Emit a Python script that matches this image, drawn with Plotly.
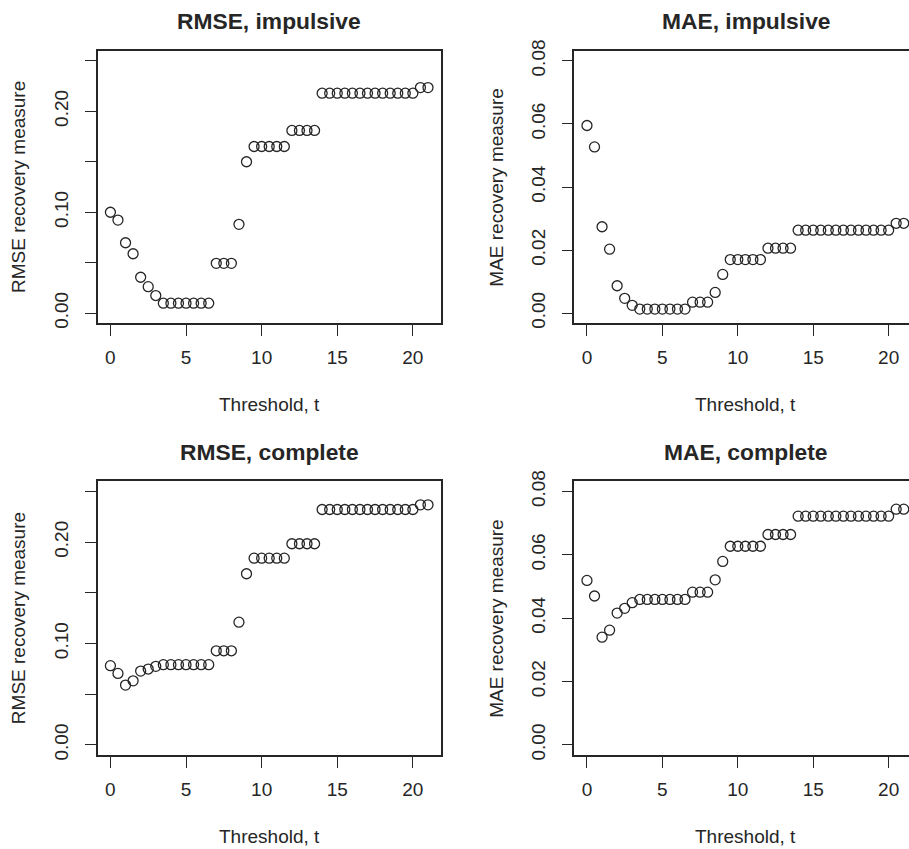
import plotly.graph_objects as go

# ---------------- data ----------------
threshold = [0, 0.5, 1, 1.5, 2, 2.5, 3, 3.5, 4, 4.5, 5, 5.5, 6, 6.5, 7, 7.5, 8, 8.5,
             9, 9.5, 10, 10.5, 11, 11.5, 12, 12.5, 13, 13.5, 14, 14.5, 15, 15.5, 16,
             16.5, 17, 17.5, 18, 18.5, 19, 19.5, 20, 20.5, 21]

rmse_impulsive = [0.1000, 0.0922, 0.0698, 0.0589, 0.0356, 0.0263, 0.0175,
                  0.0099, 0.0099, 0.0099, 0.0099, 0.0099, 0.0099, 0.0099,
                  0.0494, 0.0494, 0.0494, 0.0880, 0.1500,
                  0.1651, 0.1651, 0.1651, 0.1651, 0.1651,
                  0.1810, 0.1810, 0.1810, 0.1810,
                  0.2179, 0.2179, 0.2179, 0.2179, 0.2179, 0.2179, 0.2179,
                  0.2179, 0.2179, 0.2179, 0.2179, 0.2179, 0.2179,
                  0.2235, 0.2235]

mae_impulsive = [0.0595, 0.0527, 0.0274, 0.0203, 0.0087, 0.0047, 0.0025,
                 0.0013, 0.0013, 0.0013, 0.0013, 0.0013, 0.0013, 0.0013,
                 0.0035, 0.0035, 0.0035, 0.0066, 0.0123,
                 0.0170, 0.0170, 0.0170, 0.0170, 0.0170,
                 0.0206, 0.0206, 0.0206, 0.0206,
                 0.0263, 0.0263, 0.0263, 0.0263, 0.0263, 0.0263, 0.0263,
                 0.0263, 0.0263, 0.0263, 0.0263, 0.0263, 0.0263,
                 0.0285, 0.0285]

rmse_complete = [0.0781, 0.0705, 0.0590, 0.0632, 0.0728, 0.0748, 0.0775,
                 0.0791, 0.0791, 0.0791, 0.0791, 0.0791, 0.0791, 0.0791,
                 0.0928, 0.0928, 0.0928, 0.1210, 0.1688,
                 0.1842, 0.1842, 0.1842, 0.1842, 0.1842,
                 0.1984, 0.1984, 0.1984, 0.1984,
                 0.2322, 0.2322, 0.2322, 0.2322, 0.2322, 0.2322, 0.2322,
                 0.2322, 0.2322, 0.2322, 0.2322, 0.2322, 0.2322,
                 0.2368, 0.2368]

mae_complete = [0.0519, 0.0470, 0.0340, 0.0362, 0.0416, 0.0431, 0.0449,
                0.0459, 0.0459, 0.0459, 0.0459, 0.0459, 0.0459, 0.0459,
                0.0482, 0.0482, 0.0482, 0.0521, 0.0579,
                0.0627, 0.0627, 0.0627, 0.0627, 0.0627,
                0.0664, 0.0664, 0.0664, 0.0664,
                0.0722, 0.0722, 0.0722, 0.0722, 0.0722, 0.0722, 0.0722,
                0.0722, 0.0722, 0.0722, 0.0722, 0.0722, 0.0722,
                0.0744, 0.0744]

panel_titles = ["RMSE, impulsive", "MAE, impulsive", "RMSE, complete", "MAE, complete"]
x_title = "Threshold, t"
y_titles = ["RMSE recovery measure", "MAE recovery measure",
            "RMSE recovery measure", "MAE recovery measure"]

x_tickvals = [0, 5, 10, 15, 20]
x_ticktext = ["0", "5", "10", "15", "20"]
rmse_tickvals = [0.00, 0.05, 0.10, 0.15, 0.20, 0.25]
rmse_ticktext = ["0.00", "", "0.10", "", "0.20", ""]
mae_tickvals = [0.00, 0.02, 0.04, 0.06, 0.08]
mae_ticktext = ["0.00", "0.02", "0.04", "0.06", "0.08"]

# ---------------- layout helpers ----------------
W, H = 909, 849
INK = "#262626"
FONT = "Liberation Sans, Arial, Helvetica, sans-serif"

def px_x(p):
    return p / W

def px_y(p):
    return (H - p) / H

# panel boxes in pixels: (left, right, top, bottom)
boxes = [
    (97.7, 440.7, 50.7, 323.3),
    (574.3, 909.0, 50.7, 323.3),
    (97.7, 440.7, 481.3, 755.0),
    (574.3, 909.0, 481.3, 755.0),
]
x_ranges = [[-0.84, 21.84], [-0.84, 21.35], [-0.84, 21.84], [-0.84, 21.35]]
y_ranges = [[-0.01, 0.26], [-0.0032, 0.0832], [-0.01, 0.26], [-0.0032, 0.0832]]
series = [rmse_impulsive, mae_impulsive, rmse_complete, mae_complete]
ytv = [rmse_tickvals, mae_tickvals, rmse_tickvals, mae_tickvals]
ytt = [rmse_ticktext, mae_ticktext, rmse_ticktext, mae_ticktext]
is_right = [False, True, False, True]

fig = go.Figure()
annotations = []

for i in range(4):
    n = "" if i == 0 else str(i + 1)
    xa, ya = "x" + n, "y" + n
    fig.add_trace(go.Scatter(
        x=threshold, y=series[i], xaxis=xa, yaxis=ya, mode="markers",
        marker=dict(symbol="circle-open", size=10, color=INK,
                    line=dict(width=1.3, color=INK)),
        showlegend=False, hoverinfo="x+y"))
    l, r, t, b = boxes[i]
    axis_common = dict(showgrid=False, zeroline=False, showline=True,
                       automargin=False,
                       linecolor=INK, linewidth=1.5, ticks="outside",
                       ticklen=11, tickwidth=1.4, tickcolor=INK,
                       tickfont=dict(family=FONT, size=19, color=INK))
    fig.update_layout(**{
        ("xaxis" + n): dict(domain=[px_x(l), px_x(r)], range=x_ranges[i],
                            anchor=ya, mirror=True,
                            tickvals=x_tickvals, ticktext=x_ticktext,
                            ticklabelstandoff=5, **axis_common),
        ("yaxis" + n): dict(domain=[px_y(b), px_y(t)], range=y_ranges[i],
                            anchor=xa, mirror=(not is_right[i]),
                            tickvals=ytv[i], ticktext=ytt[i], tickangle=-90,
                            ticklabelstandoff=9, **axis_common),
    })
    cx = (l + r) / 2 if not is_right[i] else 745.6
    row_off = 0 if i < 2 else 431
    annotations.append(dict(text="<b>" + panel_titles[i] + "</b>", x=px_x(cx),
                            y=px_y(21 + row_off), xref="paper", yref="paper",
                            xanchor="center", yanchor="middle", showarrow=False,
                            font=dict(family=FONT, size=22.8, color=INK)))
    annotations.append(dict(text=x_title, x=px_x(cx), y=px_y(405 + row_off),
                            xref="paper", yref="paper", xanchor="center",
                            yanchor="middle", showarrow=False,
                            font=dict(family=FONT, size=19, color=INK)))
    yx = 18 if not is_right[i] else 495.7
    annotations.append(dict(text=y_titles[i], x=px_x(yx), y=px_y((t + b) / 2),
                            xref="paper", yref="paper", xanchor="center",
                            yanchor="middle", showarrow=False, textangle=-90,
                            font=dict(family=FONT, size=19, color=INK)))

fig.update_layout(width=W, height=H, margin=dict(l=0, r=0, t=0, b=0),
                  paper_bgcolor="white", plot_bgcolor="white",
                  annotations=annotations, font=dict(family=FONT, color=INK))

fig.write_html("out.html")
